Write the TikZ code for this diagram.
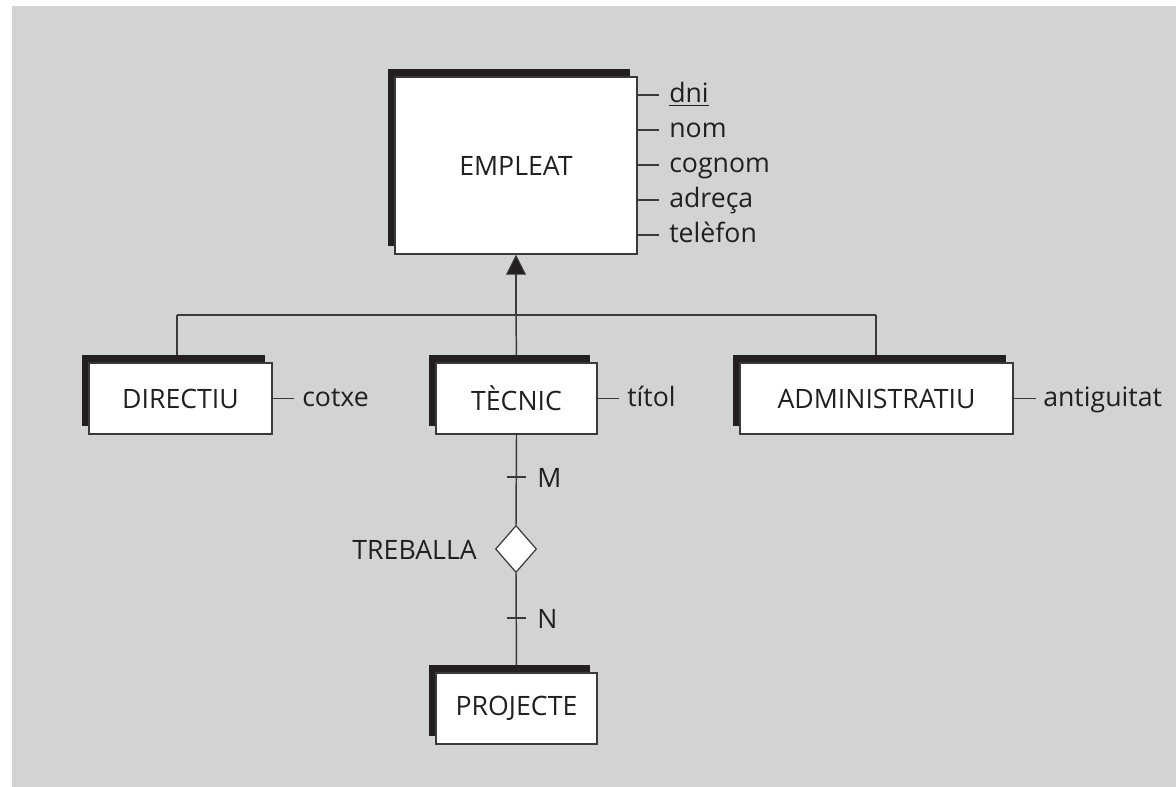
\documentclass[tikz,border=0pt]{standalone}
\usepackage{fontspec}
\setmainfont{Open Sans}
\usetikzlibrary{shapes.geometric,shadows,arrows.meta}
\definecolor{canvasgray}{HTML}{D1D3D4}
\definecolor{ink}{HTML}{231F20}
\definecolor{linegray}{HTML}{3A3A3A}
\pgfdeclarelayer{canvas}
\pgfdeclarelayer{wires}
\pgfsetlayers{canvas,wires,main}
\begin{document}
\begin{tikzpicture}[x=0.75pt,y=-0.75pt,
  font=\fontsize{20pt}{24pt}\selectfont, text=ink,
  entity/.style={draw=linegray, line width=1.1pt, fill=white,
    minimum height=53.25pt, inner sep=0pt,
    general shadow={fill=ink, shadow xshift=-5.25pt, shadow yshift=6pt}},
  relation/.style={diamond, draw=linegray, line width=0.9pt, fill=white,
    minimum width=30.75pt, minimum height=35.25pt, inner sep=0pt},
  wire/.style={draw=linegray, line width=1.1pt},
  attr/.style={anchor=base west, inner sep=0pt}]

\useasboundingbox (0,0) rectangle (1176,787);
\begin{pgfonlayer}{canvas}
  \fill[canvasgray] (12,6) rectangle (1176,787);
\end{pgfonlayer}

% entities
\node[entity, minimum width=181.5pt, minimum height=132.75pt] (empleat) at (516,165.5) {EMPLEAT};
\node[entity, minimum width=137.25pt] (directiu) at (180.5,398.5) {DIRECTIU};
\node[entity, minimum width=120.75pt] (tecnic) at (516.5,398.5) {TÈCNIC};
\node[entity, minimum width=204.75pt] (admin) at (876.5,398.5) {ADMINISTRATIU};
\node[entity, minimum width=120.75pt] (projecte) at (516.5,708.5) {PROJECTE};

% relationship
\node[relation] (treballa) at (516,549) {};
\node[anchor=base east, inner sep=0pt] (treballa-label) at (477,559) {TREBALLA};

% attributes of EMPLEAT
\foreach \y/\name/\txt in {95/dni/\underline{dni}, 130/nom/nom, 165/cognom/cognom,
                           200/adreca/adreça, 235/telefon/telèfon} {
  \draw[wire] (empleat.east |- 0,\y) -- ++(15.75pt,0pt);
  \node[attr] (attr-\name) at (669,\y+8) {\txt};
}

% attributes of the subtypes
\draw[wire] (directiu.east) -- ++(15.75pt,0pt);
\node[attr] (attr-cotxe) at (302,406.5) {cotxe};
\draw[wire] (tecnic.east) -- ++(15.75pt,0pt);
\node[attr] (attr-titol) at (627,406.5) {títol};
\draw[wire] (admin.east) -- ++(16.5pt,0pt);
\node[attr] (attr-antiguitat) at (1043,406.5) {antiguitat};

% cardinality labels
\coordinate (m-tick) at (516,477);
\coordinate (n-tick) at (516,618);
\node[attr] (m-label) at (537,487) {M};
\node[attr] (n-label) at (537,628) {N};

\begin{pgfonlayer}{wires}
  % generalisation hierarchy
  \coordinate (hub) at (516,315);
  \coordinate (left-end) at (177,315);
  \coordinate (right-end) at (876,315);
  \draw[wire] (left-end) -- (right-end);
  \draw[wire] (left-end) -- (left-end |- directiu.north);
  \draw[wire] (right-end) -- (right-end |- admin.north);
  \draw[wire] (hub) -- (tecnic.north);
  \draw[wire, line width=0.8pt, -{Triangle[length=15pt,width=15pt,fill=ink]}]
    (hub) -- (empleat.south);
  % relationship TREBALLA
  \draw[wire] (tecnic.south) -- (treballa.north);
  \draw[wire] (treballa.south) -- (projecte.north);
  \draw[wire] ([xshift=-7pt]m-tick) -- ([xshift=7.5pt]m-tick);
  \draw[wire] ([xshift=-7pt]n-tick) -- ([xshift=7.5pt]n-tick);
\end{pgfonlayer}
\end{tikzpicture}
\end{document}
